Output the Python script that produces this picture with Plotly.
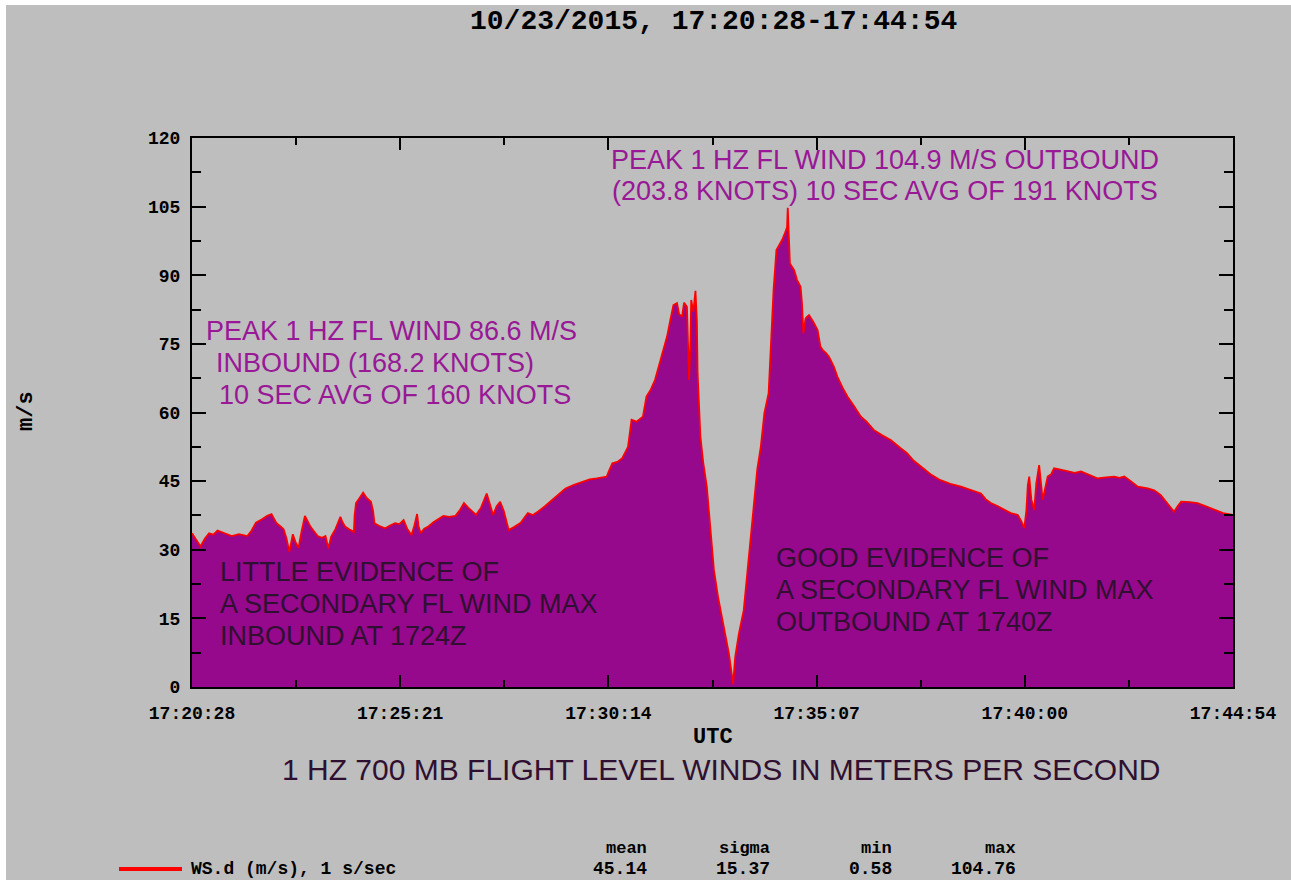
import plotly.graph_objects as go

# ---------------- data (seconds after 17:20:28 UTC, wind speed m/s) ----------------
t_sec = [0, 6, 12, 18, 24, 30, 36, 46, 56, 66, 78, 84, 90, 98, 106, 112, 116, 119, 124, 129,
         133, 137, 140, 142, 146, 150, 154, 159, 163, 167, 172, 177, 183, 188, 192, 196, 202, 209, 212, 216,
         222, 228, 229, 231, 236, 241, 246, 252, 255, 257, 264, 272, 279, 286, 292, 298, 303, 309, 313, 317,
         319, 322, 327, 332, 340, 347, 354, 362, 371, 377, 383, 389, 395, 400, 407, 415, 419, 424, 429, 434,
         439, 446, 454, 463, 468, 473, 480, 487, 497, 507, 516, 526, 538, 548, 560, 570, 578, 584, 588, 592,
         599, 606, 614, 617, 619, 626, 635, 640, 646, 652, 657, 663, 669, 674, 678, 683, 686, 690, 693, 697,
         699, 700, 702, 703, 706, 709, 711, 712, 716, 720, 725, 730, 735, 741, 747, 752, 756, 759, 762, 765,
         770, 777, 782, 787, 791, 796, 801, 806, 812, 816, 819, 823, 827, 831, 835, 838, 839, 841, 842, 848,
         852, 857, 859, 861, 864, 866, 869, 875, 881, 885, 888, 893, 897, 904, 909, 916, 923, 932, 942, 950,
         960, 972, 984, 998, 1007, 1016, 1026, 1040, 1054, 1068, 1083, 1097, 1111, 1118, 1125, 1135, 1144, 1153, 1163, 1168,
         1172, 1175, 1177, 1179, 1182, 1186, 1189, 1193, 1198, 1202, 1205, 1210, 1214, 1220, 1233, 1243, 1252, 1263, 1275, 1287,
         1299, 1306, 1313, 1322, 1332, 1346, 1355, 1364, 1372, 1383, 1388, 1393, 1405, 1416, 1428, 1440, 1452, 1466]
ws_ms = [33.6, 32.2, 30.7, 32.4, 33.6, 33.3, 34.2, 33.6, 33.0, 33.4, 33.0, 34.2, 35.9, 36.6, 37.4, 37.8, 36.6, 35.8, 35.2, 34.5,
         32.5, 29.6, 31.8, 33.4, 31.6, 30.4, 33.8, 37.4, 36.2, 35.0, 34.0, 33.0, 32.6, 33.0, 30.3, 32.9, 34.5, 37.2, 36.0, 35.0,
         34.4, 33.9, 37.5, 40.2, 41.3, 42.5, 41.3, 40.5, 38.5, 35.8, 35.2, 34.7, 35.3, 35.8, 35.6, 36.5, 34.6, 33.2, 35.2, 37.8,
         35.2, 33.6, 34.6, 35.0, 36.0, 36.8, 37.4, 37.2, 37.4, 38.6, 40.2, 39.2, 38.4, 37.6, 39.2, 42.3, 40.2, 37.6, 39.5, 40.5,
         38.5, 34.3, 35.0, 35.9, 37.0, 38.0, 37.6, 38.3, 39.5, 40.9, 42.0, 43.4, 44.2, 44.8, 45.4, 45.6, 45.9, 46.0, 47.5, 48.9,
         49.2, 50.0, 52.5, 56.5, 58.4, 58.0, 59.1, 63.5, 65.0, 67.1, 70.0, 73.5, 76.6, 80.5, 83.5, 83.9, 81.5, 80.9, 84.0, 83.1,
         74.0, 67.1, 76.0, 84.6, 82.0, 86.6, 80.0, 68.6, 54.7, 49.0, 43.8, 34.5, 25.6, 19.5, 14.6, 10.5, 7.4, 4.0, 0.58, 6.6,
         11.5, 16.8, 24.9, 33.0, 40.9, 47.5, 52.5, 59.8, 64.2, 78.0, 86.8, 95.5, 96.5, 97.7, 99.2, 100.5, 104.76, 97.0, 92.6, 91.1,
         89.0, 87.5, 83.9, 77.3, 80.5, 80.9, 81.3, 79.8, 78.0, 74.4, 73.7, 73.0, 72.2, 70.0, 67.8, 65.5, 63.5, 61.5, 59.1, 58.0,
         56.2, 55.0, 54.0, 52.2, 51.1, 49.5, 48.2, 46.5, 45.2, 44.4, 43.8, 43.0, 42.3, 41.0, 40.2, 39.5, 38.7, 38.0, 37.6, 36.2,
         34.7, 38.5, 44.0, 46.0, 41.0, 38.7, 44.5, 48.5, 40.9, 44.0, 46.0, 46.5, 47.8, 47.6, 47.1, 46.8, 47.1, 46.4, 45.6, 45.8,
         46.0, 45.7, 46.0, 45.0, 43.8, 43.4, 43.0, 42.0, 40.5, 38.3, 39.5, 40.5, 40.4, 40.2, 39.5, 38.7, 38.0, 37.6]

x_tick_vals = [0, 293.2, 586.4, 879.6, 1172.8, 1466]
x_tick_text = ["17:20:28", "17:25:21", "17:30:14", "17:35:07", "17:40:00", "17:44:54"]
x_minor_vals = [146.6, 439.8, 733.0, 1026.2, 1319.4]
y_tick_vals = [0, 15, 30, 45, 60, 75, 90, 105, 120]

stat_names = ["mean", "sigma", "min", "max"]
stat_values = ["45.14", "15.37", "0.58", "104.76"]

# ---------------- layout helpers (pixel -> paper) ----------------
W, H = 1291, 880
L, R, T, B = 192, 1233, 138, 687


def px(xp):
    return (xp - L) / (R - L)


def py(yp):
    return (B - yp) / (B - T)


GRAY = "#bebebe"
PURPLE_FILL = "rgb(150,8,140)"
PURPLE_TXT = "rgb(152,24,150)"
DARK_TXT = "rgb(48,16,48)"
MONO = "Liberation Mono"
SANS = "Liberation Sans"
FS = 27

fig = go.Figure()
fig.add_trace(go.Scatter(
    x=t_sec, y=ws_ms, mode="lines", fill="tozeroy",
    fillcolor=PURPLE_FILL, line=dict(color="#ff0000", width=1.8),
    name="WS.d (m/s), 1 s/sec", showlegend=False, hoverinfo="skip"))

ann = []


def add_text(x, y, text, size, color, family=SANS, xanchor="center", weight="normal", angle=0):
    ann.append(dict(x=x, y=y, xref="paper", yref="paper", text=text, showarrow=False,
                    xanchor=xanchor, yanchor="middle", textangle=angle, borderpad=0,
                    font=dict(size=size, color=color, family=family, weight=weight)))


# title
add_text(px(713), py(22), "10/23/2015, 17:20:28-17:44:54", 28, "black", MONO, weight="bold")
# in-plot annotations
add_text(px(885), py(160), "PEAK 1 HZ FL WIND 104.9 M/S OUTBOUND", FS, PURPLE_TXT)
add_text(px(885), py(191), "(203.8 KNOTS) 10 SEC AVG OF 191 KNOTS", FS, PURPLE_TXT)
add_text(px(205), py(331), "PEAK 1 HZ FL WIND 86.6 M/S", FS, PURPLE_TXT, xanchor="left")
add_text(px(215), py(363), "INBOUND (168.2 KNOTS)", FS, PURPLE_TXT, xanchor="left")
add_text(px(218), py(395), "10 SEC AVG OF 160 KNOTS", FS, PURPLE_TXT, xanchor="left")
add_text(px(219), py(572), "LITTLE EVIDENCE OF", FS, DARK_TXT, xanchor="left")
add_text(px(219), py(604), "A SECONDARY FL WIND MAX", FS, DARK_TXT, xanchor="left")
add_text(px(219), py(636), "INBOUND AT 1724Z", FS, DARK_TXT, xanchor="left")
add_text(px(775), py(558), "GOOD EVIDENCE OF", FS, DARK_TXT, xanchor="left")
add_text(px(775), py(590), "A SECONDARY FL WIND MAX", FS, DARK_TXT, xanchor="left")
add_text(px(775), py(622), "OUTBOUND AT 1740Z", FS, DARK_TXT, xanchor="left")
# axis titles
add_text(px(713), py(737), "UTC", 22, "black", MONO, weight="bold")
add_text(px(26), py(411), "m/s", 22, "black", MONO, weight="bold", angle=-90)
add_text(px(721), py(769), "1 HZ 700 MB FLIGHT LEVEL WINDS IN METERS PER SECOND", 30, DARK_TXT)
# legend / stats
add_text(px(190), py(869), "WS.d (m/s), 1 s/sec", 18, "black", MONO, xanchor="left", weight="bold")
stat_right = [648, 771, 893, 1017]
for name, val, xr in zip(stat_names, stat_values, stat_right):
    add_text(px(xr), py(849), name, 17, "black", MONO, xanchor="right", weight="bold")
    add_text(px(xr), py(869), val, 18, "black", MONO, xanchor="right", weight="bold")

shapes = [
    # white margins of the scanned figure
    dict(type="rect", xref="paper", yref="paper", x0=px(0), x1=px(W), y0=py(5), y1=py(0),
         fillcolor="white", line=dict(width=0), layer="above"),
    dict(type="rect", xref="paper", yref="paper", x0=px(0), x1=px(6), y0=py(H), y1=py(0),
         fillcolor="white", line=dict(width=0), layer="above"),
    # legend line sample
    dict(type="line", xref="paper", yref="paper", x0=px(119), x1=px(182), y0=py(869), y1=py(869),
         line=dict(color="#ff0000", width=4)),
]

axis_common = dict(showline=True, linecolor="black", linewidth=2, mirror="ticks",
                   ticks="inside", tickcolor="black", tickwidth=2,
                   showgrid=False, zeroline=False,
                   tickfont=dict(family=MONO, size=18, color="black", weight="bold"))

fig.update_layout(
    width=W, height=H,
    margin=dict(l=L, r=W - R, t=T, b=H - B, pad=0),
    paper_bgcolor=GRAY, plot_bgcolor=GRAY,
    xaxis=dict(range=[0, 1466], tickmode="array", tickvals=x_tick_vals, ticktext=x_tick_text,
               ticklen=12, ticklabelstandoff=8,
               minor=dict(tickvals=x_minor_vals, ticks="inside", ticklen=7, tickcolor="black", tickwidth=2),
               **axis_common),
    yaxis=dict(range=[0, 120], tickmode="array", tickvals=y_tick_vals,
               ticklen=14, ticklabelstandoff=6,
               minor=dict(dtick=7.5, ticks="inside", ticklen=9, tickcolor="black", tickwidth=2),
               **axis_common),
    annotations=ann, shapes=shapes,
)

fig.write_html("out.html")
